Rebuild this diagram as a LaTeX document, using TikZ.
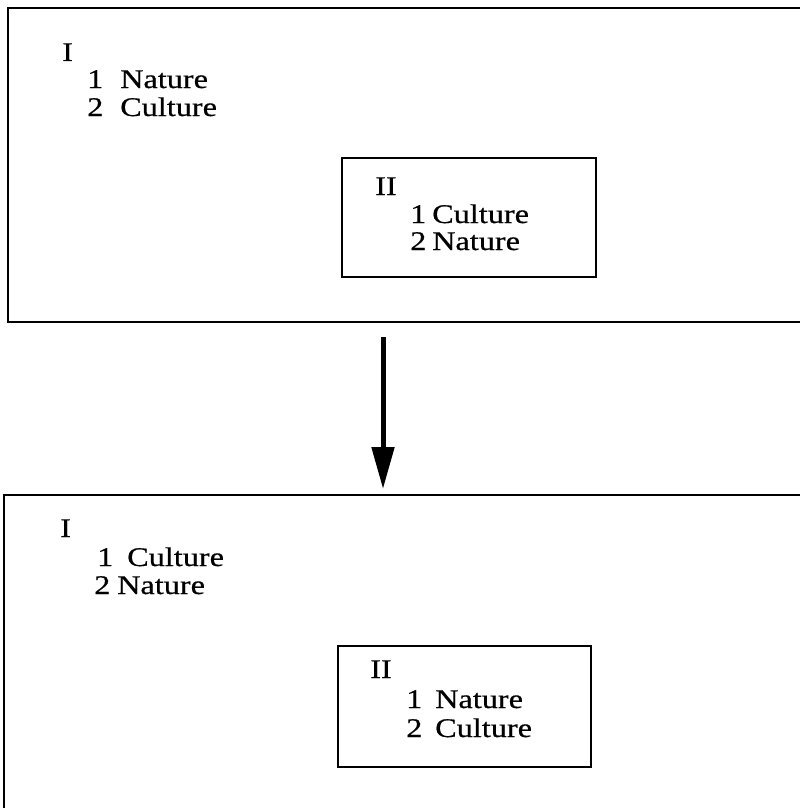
\documentclass[tikz,border=0pt]{standalone}
\usepackage{fontspec}
\setmainfont{Liberation Serif}[FakeStretch=1.2,FakeBold=0.6]
\usetikzlibrary{arrows.meta}
\begin{document}
\begin{tikzpicture}[x=1bp,y=-1bp,
  outerbox/.style={draw=black, line width=2.6bp, fill=none},
  innerbox/.style={draw=black, line width=2.2bp},
  lbl/.style={anchor=base west, inner sep=0pt, font=\fontsize{27}{30}\selectfont},
  bigarrow/.style={line width=5bp, -{Triangle[width=22bp,length=42bp]}}]
\useasboundingbox (0,0) rectangle (800,808);
\clip (0,0) rectangle (800,808);
\fill[white] (0,0) rectangle (800,808);
% top outer box
\draw[outerbox] (8,8) rectangle (806,322);
\node[lbl] (tI) at (62,61) {I};
\node[lbl] (t1) at (87,88) {1};
\node[lbl] (t1w) at (120,88) {Nature};
\node[lbl] (t2) at (87,116) {2};
\node[lbl] (t2w) at (120,116) {Culture};
% top inner box
\draw[innerbox] (342,158) rectangle (596,277);
\node[lbl] (tII) at (375,195) {II};
\node[lbl] (ti1) at (410,223) {1};
\node[lbl] (ti1w) at (432,223) {Culture};
\node[lbl] (ti2) at (410,250) {2};
\node[lbl] (ti2w) at (432,250) {Nature};
% arrow
\coordinate (astart) at (383,337);
\coordinate (aend) at (383,489);
\draw[bigarrow] (astart) -- (aend);
% bottom outer box
\draw[outerbox] (4,495) rectangle (806,812);
\node[lbl] (bI) at (60,537) {I};
\node[lbl] (b1) at (97,566) {1};
\node[lbl] (b1w) at (127,566) {Culture};
\node[lbl] (b2) at (94,594) {2};
\node[lbl] (b2w) at (117,594) {Nature};
% bottom inner box
\draw[innerbox] (338,646) rectangle (591,767);
\node[lbl] (bII) at (370,678) {II};
\node[lbl] (bi1) at (406,708) {1};
\node[lbl] (bi1w) at (435,708) {Nature};
\node[lbl] (bi2) at (406,737) {2};
\node[lbl] (bi2w) at (435,737) {Culture};
\end{tikzpicture}
\end{document}
